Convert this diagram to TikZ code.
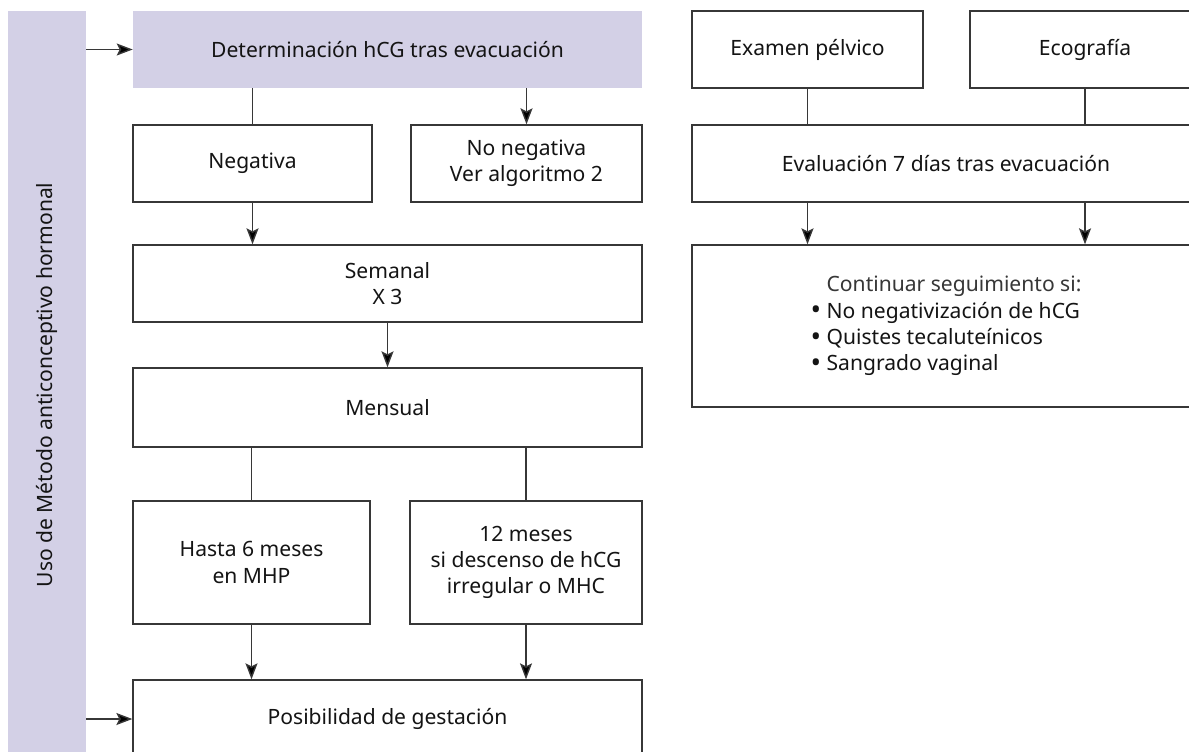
\documentclass[tikz,border=0pt]{standalone}
\usepackage{fontspec}
\setmainfont{Noto Sans}
\usetikzlibrary{arrows.meta}
\definecolor{lila}{RGB}{211,208,230}
\definecolor{linea}{RGB}{55,55,55}
\definecolor{texto}{RGB}{20,20,20}
\newcommand{\vineta}{\raisebox{-0.15ex}{\fontsize{16}{15}\selectfont\textbullet}\ }

\begin{document}
\begin{tikzpicture}[x=0.02cm,y=-0.02cm,
    font=\fontsize{12}{15}\selectfont,text=texto,
    caja/.style={draw=linea,line width=0.8pt,fill=white,align=center,inner sep=2pt,
      minimum height=1.54cm},
    cajalila/.style={fill=lila,align=center,inner sep=2pt,minimum height=1.54cm},
    linea/.style={draw=linea,line width=0.8pt},
    flecha/.style={linea,-{Stealth[length=3.2mm,width=2.4mm,inset=0.6mm,fill=black]}}]
  \useasboundingbox (0,0) rectangle (1189,751);
  \clip (0,0) rectangle (1189,751);
  % Barra lateral
  \node[fill=lila,minimum width=1.56cm,minimum height=15.2cm,inner sep=0pt] (uso) at (47,391) {};
  \node[rotate=90] at (47,385) {Uso de Método anticonceptivo hormonal};
  % Columna izquierda
  \node[cajalila,minimum width=10.18cm] (det) at (387.5,49.5) {Determinación hCG tras evacuación};
  \node[caja,minimum width=4.78cm] (neg) at (252.5,163.5) {Negativa};
  \node[caja,minimum width=4.62cm] (noneg) at (526.5,163.5) {No negativa\\Ver algoritmo 2};
  \node[caja,minimum width=10.18cm] (sem) at (387.5,283.5) {Semanal\\X 3};
  \node[caja,minimum width=10.18cm,minimum height=1.58cm] (men) at (387.5,407.5) {Mensual};
  \node[caja,minimum width=4.74cm,minimum height=2.46cm] (hasta) at (251.5,562.5) {Hasta 6 meses\\en MHP};
  \node[caja,minimum width=4.64cm,minimum height=2.46cm] (doce) at (526,562.5) {12 meses\\si descenso de hCG\\irregular o MHC};
  \node[caja,minimum width=10.18cm,minimum height=1.56cm] (pos) at (387.5,719) {Posibilidad de gestación};
  % Columna derecha
  \node[caja,minimum width=4.62cm] (exa) at (807.5,49.5) {Examen pélvico};
  \node[caja,minimum width=4.6cm] (eco) at (1085,49.5) {Ecografía};
  \node[caja,minimum width=10.16cm] (eva) at (946,163.5) {Evaluación 7 días tras evacuación};
  \node[caja,minimum width=10.16cm,minimum height=3.24cm,align=left] (cont) at (946,326)
    {\phantom{\vineta}{\color{texto!85}Continuar seguimiento si:}\\
     \vineta No negativización de hCG\\
     \vineta Quistes tecaluteínicos\\
     \vineta Sangrado vaginal};
  % Conectores
  \draw[flecha] (uso.east |- det.west) -- (det.west);
  \draw[flecha] (uso.east |- pos.west) -- (pos.west);
  \draw[linea] (neg.north |- det.south) -- (neg.north);
  \draw[flecha] (noneg.north |- det.south) -- (noneg.north);
  \draw[flecha] (neg.south) -- (neg.south |- sem.north);
  \draw[flecha] (sem.south) -- (men.north);
  \draw[linea] (hasta.north |- men.south) -- (hasta.north);
  \draw[linea] (doce.north |- men.south) -- (doce.north);
  \draw[flecha] (hasta.south) -- (hasta.south |- pos.north);
  \draw[flecha] (doce.south) -- (doce.south |- pos.north);
  \draw[linea] (exa.south) -- (exa.south |- eva.north);
  \draw[linea] (eco.south) -- (eco.south |- eva.north);
  \draw[flecha] (exa.south |- eva.south) -- (exa.south |- cont.north);
  \draw[flecha] (eco.south |- eva.south) -- (eco.south |- cont.north);
\end{tikzpicture}
\end{document}
